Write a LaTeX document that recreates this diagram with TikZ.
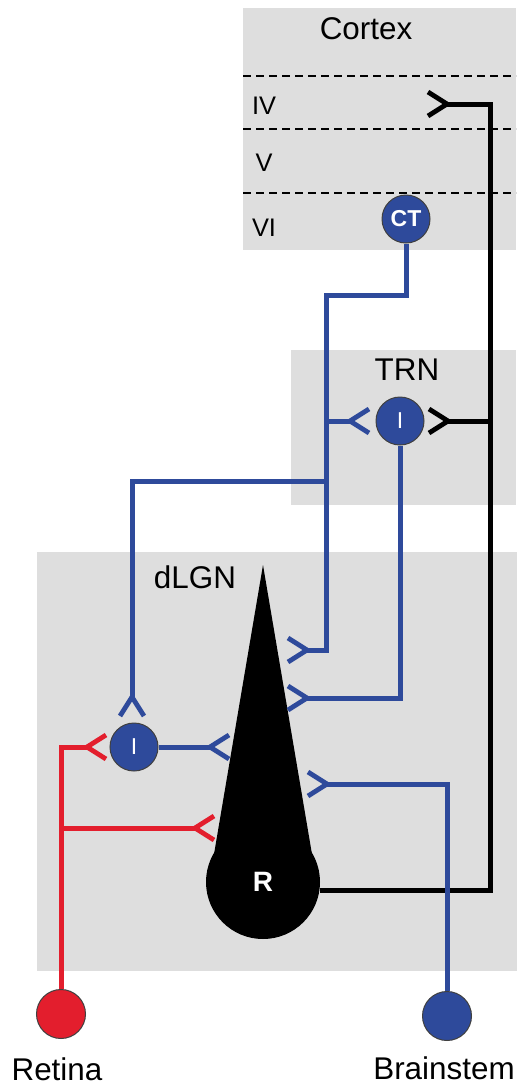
\documentclass[tikz,border=0pt]{standalone}
\usepackage{fontspec}
\setmainfont{Liberation Sans}
\usetikzlibrary{calc}

\definecolor{regiongray}{RGB}{222,222,222}
\definecolor{cellblue}{RGB}{46,74,155}
\definecolor{cellred}{RGB}{227,30,45}

\tikzset{
  syn/.pic={\draw[line width=2.4pt, line cap=butt, line join=miter] (19,-12) -- (0,0) -- (19,12);}
}

\begin{document}
\begin{tikzpicture}[x=0.5pt, y=-0.5pt,
  region/.style={fill=regiongray},
  layer/.style={line width=0.8pt, dash pattern=on 4pt off 2.5pt},
  axon/.style={line width=2.5pt},
  cell/.style={circle, draw=black!75, line width=0.5pt, fill=#1, minimum size=24pt, inner sep=0pt, text=white},
  lbl/.style={inner sep=0pt, font=\fontsize{15.7}{18}\selectfont},
  sublbl/.style={inner sep=0pt, font=\fontsize{12.7}{15}\selectfont}]
\useasboundingbox (0,0) rectangle (521,1088);
% regions
\fill[region] (243,8) rectangle (516,250);
\fill[region] (291,350) rectangle (516,505);
\fill[region] (37,552) rectangle (517,971);
\draw[layer] (243,76) -- (516,76);
\draw[layer] (243,129) -- (516,129);
\draw[layer] (243,193) -- (516,193);
\node[lbl] (cortex) at (366,29) {Cortex};
\node[sublbl] (iv) at (264,106) {IV};
\node[sublbl] (v) at (264,163) {V};
\node[sublbl] (vi) at (264,228) {VI};
\node[lbl] (trn) at (407,370) {TRN};
\node[lbl] (dlgn) at (195,577) {dLGN};
\node[lbl] (retlbl) at (57,1069) {Retina};
\node[lbl] (bslbl) at (444,1068) {Brainstem};

% relay cell
\fill (263,565) -- (212,866) -- (314,866) -- cycle;
\node[circle, fill=black, minimum size=57pt, inner sep=0pt, text=white,
  font=\bfseries\fontsize{14}{16}\selectfont] (relay) at (263,882) {R};

% cells
\node[cell=cellblue, font=\bfseries\fontsize{11.5}{13}\selectfont] (ct) at (406,219) {CT};
\node[cell=cellblue, font=\fontsize{11.5}{13}\selectfont] (trni) at (400,421) {I};
\node[cell=cellblue, font=\fontsize{11.5}{13}\selectfont] (lgni) at (134,747) {I};
\node[cell=cellred, minimum size=24.5pt] (retina) at (61,1014) {};
\node[cell=cellblue, minimum size=24.5pt] (brainstem) at (447,1016) {};

% synapse points
\coordinate (ivcorner) at (490,104);
\coordinate (sIV) at (447,104);
\coordinate (sTRNex) at (448,421);
\coordinate (ctbend) at (326,295);
\coordinate (ctfork) at (326,481);
\coordinate (sCT) at (307,650);
\coordinate (sTRNin) at (350,421);
\coordinate (sLGNin) at (132,697);
\coordinate (sR2) at (307,698);
\coordinate (sR3) at (210,747);
\coordinate (sR4) at (327,784);
\coordinate (sRetI) at (87,747);
\coordinate (sRetR) at (195,828);

% black: relay output
\draw[axon] (relay.-9) -| (ivcorner) -- (sIV);
\draw[axon] (ivcorner |- sTRNex) -- (sTRNex);
% blue: corticothalamic
\draw[axon, cellblue] (ct) |- (ctbend) |- (sCT);
\draw[axon, cellblue] (ctfork) -| (sLGNin);
\draw[axon, cellblue] (ctbend |- sTRNin) -- (sTRNin);
% blue: TRN, interneuron, brainstem
\draw[axon, cellblue] (trni) |- (sR2);
\draw[axon, cellblue] (lgni) -- (sR3);
\draw[axon, cellblue] (brainstem) |- (sR4);
% red: retina
\draw[axon, cellred] (retina) |- (sRetI);
\draw[axon, cellred] (retina |- sRetR) -- (sRetR);

% synapses
\pic[rotate=180] at (sIV) {syn};
\pic[rotate=180] at (sTRNex) {syn};
\pic[cellblue] at (sTRNin) {syn};
\pic[cellblue, rotate=180] at (sCT) {syn};
\pic[cellblue, rotate=180] at (sR2) {syn};
\pic[cellblue, rotate=-90] at (sLGNin) {syn};
\pic[cellblue] at (sR3) {syn};
\pic[cellblue, rotate=180] at (sR4) {syn};
\pic[cellred] at (sRetI) {syn};
\pic[cellred] at (sRetR) {syn};
\end{tikzpicture}
\end{document}
